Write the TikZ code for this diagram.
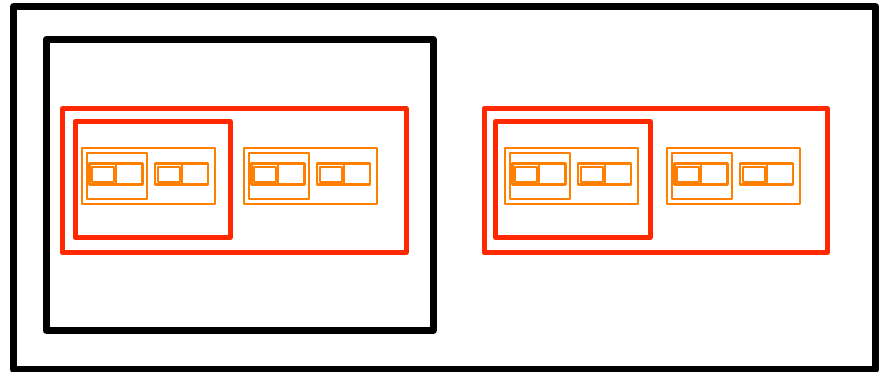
\documentclass[tikz,border=0pt]{standalone}
\definecolor{boxred}{RGB}{255,40,0}
\definecolor{boxorange}{RGB}{255,128,0}
\begin{document}
\begin{tikzpicture}[x=0.5pt, y=-0.5pt, line join=round,
    blackbox/.style={draw=black, line width=3.5pt},
    redbox/.style={draw=boxred, line width=2.5pt},
    orangebox/.style={draw=boxorange, line width=1pt},
    pairbox/.style={draw=boxorange, line width=1.4pt}]
    \useasboundingbox (0,0) rectangle (885,371);
    \draw[blackbox] (13.5,6.5) rectangle (875.5,369.5);
    \draw[blackbox] (46,39.5) rectangle (433.3,330.3);
    \draw[redbox] (62.5,108.5) rectangle (406,252.5);
    \draw[redbox] (484,108.5) rectangle (827.5,252.5);
    \draw[redbox] (75,121.5) rectangle (230,237.5);
    \draw[redbox] (495.5,121.5) rectangle (650,237.5);
    % orange groups, each with two cell pairs
    \foreach \dx in {0,162,423,585} {
        \draw[orangebox] (82+\dx,147.5) rectangle (215+\dx,203.5);
        \draw[orangebox] (87+\dx,152.5) rectangle (147+\dx,198.5);
        \foreach \px in {89.5,155} {
            \draw[pairbox] (\px+\dx,163.5) rectangle (\px+\dx+53,184.5);
            \draw[orangebox] (\px+\dx+26.5,163.5) -- (\px+\dx+26.5,184.5);
            \draw[orangebox] (\px+\dx+2.8,166.5) rectangle (\px+\dx+24.5,181.5);
        }
    }
\end{tikzpicture}
\end{document}
